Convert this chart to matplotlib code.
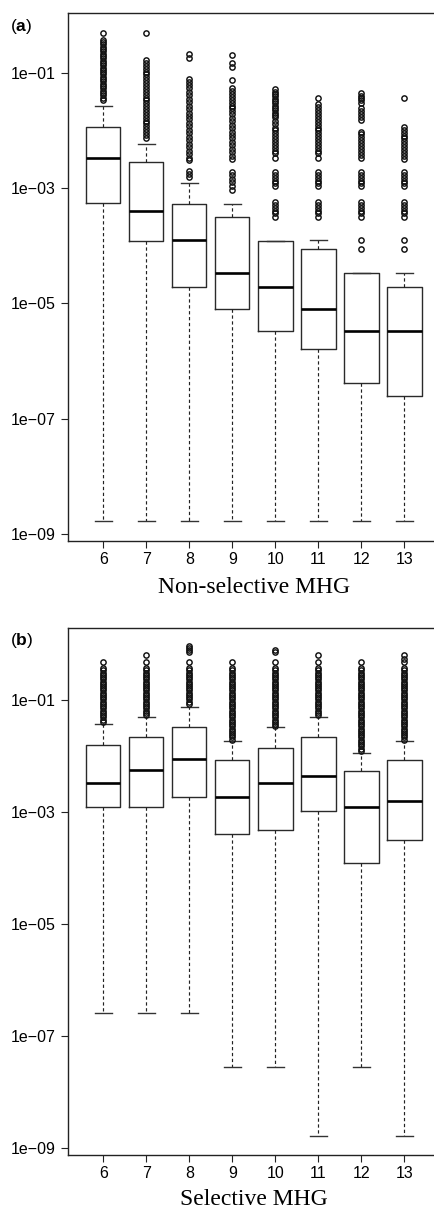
import numpy as np
import matplotlib
matplotlib.use("Agg")
import matplotlib.pyplot as plt

plt.rcParams['font.family'] = ['Liberation Sans', 'DejaVu Sans']
plt.rcParams['mathtext.fontset'] = 'custom'
plt.rcParams['mathtext.rm'] = 'Liberation Sans'
plt.rcParams['mathtext.bf'] = 'Liberation Sans:bold'

# ---------------- data (log10 values) ----------------
groups = [6, 7, 8, 9, 10, 11, 12, 13]
ytick_exp = [-1, -3, -5, -7, -9]
ytick_labels = ["1e\u221201", "1e\u221203", "1e\u221205", "1e\u221207", "1e\u221209"]

# Panel (a): Non-selective MHG
a_whishi = [-1.58, -2.23, -2.92, -3.27, -3.91, -3.90, -4.47, -4.47]
a_q3 = [-1.94, -2.54, -3.27, -3.50, -3.91, -4.06, -4.47, -4.71]
a_med = [-2.47, -3.39, -3.90, -4.47, -4.71, -5.10, -5.48, -5.48]
a_q1 = [-3.26, -3.91, -4.72, -5.10, -5.48, -5.79, -6.37, -6.60]
a_whislo = [-8.77, -8.77, -8.77, -8.77, -8.77, -8.77, -8.77, -8.77]
a_out6 = [-0.31, -0.43, -0.47, -0.51, -0.55, -0.59, -0.63, -0.67, -0.71, -0.75,
          -0.79, -0.83, -0.87, -0.91, -0.95, -0.99, -1.03, -1.07, -1.11, -1.15,
          -1.19, -1.23, -1.27, -1.31, -1.35, -1.39, -1.43, -1.47]
a_out7 = [-0.31, -0.78, -0.83, -0.88, -0.93, -0.98, -1.03, -1.08, -1.13, -1.18,
          -1.23, -1.28, -1.33, -1.38, -1.43, -1.48, -1.53, -1.58, -1.63, -1.68,
          -1.73, -1.78, -1.83, -1.88, -1.93, -1.98, -2.03, -2.08, -2.13]
a_out8 = [-0.68, -0.75, -1.11, -1.16, -1.21, -1.27, -1.33, -1.39, -1.45, -1.51,
          -1.57, -1.63, -1.69, -1.75, -1.81, -1.87, -1.93, -1.99, -2.05, -2.11,
          -2.17, -2.23, -2.29, -2.35, -2.41, -2.47, -2.51, -2.70, -2.75, -2.80]
a_out9 = [-0.69, -0.84, -0.90, -1.13, -1.27, -1.32, -1.37, -1.42, -1.47, -1.52,
          -1.57, -1.62, -1.67, -1.72, -1.78, -1.84, -1.90, -1.96, -2.02, -2.08,
          -2.14, -2.20, -2.26, -2.32, -2.38, -2.44, -2.50, -2.72, -2.78, -2.84,
          -2.90, -2.96, -3.04]
a_out10 = [-1.29, -1.33, -1.37, -1.41, -1.45, -1.49, -1.53, -1.57, -1.61, -1.65,
           -1.69, -1.73, -1.77, -1.83, -1.89, -1.95, -2.00, -2.05, -2.10, -2.15,
           -2.20, -2.25, -2.30, -2.35, -2.40, -2.47, -2.72, -2.77, -2.82, -2.87,
           -2.92, -2.97, -3.24, -3.29, -3.34, -3.39, -3.44, -3.50]
a_out11 = [-1.43, -1.55, -1.60, -1.65, -1.70, -1.75, -1.80, -1.85, -1.90, -1.95,
           -2.00, -2.05, -2.10, -2.15, -2.20, -2.25, -2.30, -2.35, -2.40, -2.47,
           -2.72, -2.77, -2.82, -2.87, -2.92, -2.97, -3.24, -3.29, -3.34, -3.39,
           -3.44, -3.50]
a_out12 = [-1.36, -1.40, -1.44, -1.48, -1.52, -1.62, -1.67, -1.72, -1.77, -1.82,
           -2.02, -2.07, -2.12, -2.17, -2.22, -2.27, -2.32, -2.37, -2.42, -2.47,
           -2.72, -2.77, -2.82, -2.87, -2.92, -2.97, -3.24, -3.29, -3.34, -3.39,
           -3.44, -3.50, -3.90, -4.06]
a_out13 = [-1.44, -1.94, -1.99, -2.04, -2.09, -2.14, -2.19, -2.24, -2.29, -2.34,
           -2.39, -2.44, -2.49, -2.72, -2.77, -2.82, -2.87, -2.92, -2.97, -3.24,
           -3.29, -3.34, -3.39, -3.44, -3.50, -3.90, -4.06]

# Panel (b): Selective MHG
b_whishi = [-1.43, -1.30, -1.12, -1.74, -1.49, -1.30, -1.94, -1.74]
b_q3 = [-1.81, -1.67, -1.49, -2.07, -1.85, -1.67, -2.26, -2.07]
b_med = [-2.48, -2.25, -2.06, -2.73, -2.48, -2.35, -2.92, -2.80]
b_q1 = [-2.92, -2.92, -2.73, -3.40, -3.32, -2.99, -3.92, -3.50]
b_whislo = [-6.60, -6.60, -6.60, -7.55, -7.55, -8.79, -7.55, -8.79]
b_out6 = [-0.32, -0.43, -0.47, -0.51, -0.55, -0.59, -0.63, -0.67, -0.71, -0.75,
          -0.79, -0.83, -0.87, -0.91, -0.95, -0.99, -1.03, -1.07, -1.11, -1.15,
          -1.19, -1.23, -1.27, -1.31, -1.35, -1.39]
b_out7 = [-0.20, -0.32, -0.43, -0.47, -0.51, -0.55, -0.59, -0.63, -0.67, -0.71,
          -0.75, -0.79, -0.83, -0.87, -0.91, -0.95, -0.99, -1.03, -1.07, -1.11,
          -1.15, -1.19, -1.23, -1.27]
b_out8 = [-0.03, -0.07, -0.11, -0.15, -0.32, -0.43, -0.47, -0.51, -0.55, -0.59,
          -0.63, -0.67, -0.71, -0.75, -0.79, -0.83, -0.87, -0.91, -0.95, -0.99,
          -1.03, -1.07]
b_out9 = [-0.32, -0.43, -0.47, -0.51, -0.55, -0.59, -0.63, -0.67, -0.71, -0.75,
          -0.79, -0.83, -0.87, -0.91, -0.95, -0.99, -1.03, -1.07, -1.11, -1.15,
          -1.19, -1.23, -1.27, -1.31, -1.35, -1.39, -1.43, -1.47, -1.51, -1.55,
          -1.59, -1.63, -1.67, -1.71]
b_out10 = [-0.11, -0.15, -0.32, -0.43, -0.47, -0.51, -0.55, -0.59, -0.63, -0.67,
           -0.71, -0.75, -0.79, -0.83, -0.87, -0.91, -0.95, -0.99, -1.03, -1.07,
           -1.11, -1.15, -1.19, -1.23, -1.27, -1.31, -1.35, -1.39, -1.43, -1.47]
b_out11 = [-0.20, -0.32, -0.43, -0.47, -0.51, -0.55, -0.59, -0.63, -0.67, -0.71,
           -0.75, -0.79, -0.83, -0.87, -0.91, -0.95, -0.99, -1.03, -1.07, -1.11,
           -1.15, -1.19, -1.23, -1.27]
b_out12 = [-0.32, -0.43, -0.47, -0.51, -0.55, -0.59, -0.63, -0.67, -0.71, -0.75,
           -0.79, -0.83, -0.87, -0.91, -0.95, -0.99, -1.03, -1.07, -1.11, -1.15,
           -1.19, -1.23, -1.27, -1.31, -1.35, -1.39, -1.43, -1.47, -1.51, -1.55,
           -1.59, -1.63, -1.67, -1.71, -1.75, -1.79, -1.83, -1.87, -1.91]
b_out13 = [-0.20, -0.27, -0.32, -0.43, -0.47, -0.51, -0.55, -0.59, -0.63, -0.67,
           -0.71, -0.75, -0.79, -0.83, -0.87, -0.91, -0.95, -0.99, -1.03, -1.07,
           -1.11, -1.15, -1.19, -1.23, -1.27, -1.31, -1.35, -1.39, -1.43, -1.47,
           -1.51, -1.55, -1.59, -1.63, -1.67, -1.71]

a_outliers = [a_out6, a_out7, a_out8, a_out9, a_out10, a_out11, a_out12, a_out13]
b_outliers = [b_out6, b_out7, b_out8, b_out9, b_out10, b_out11, b_out12, b_out13]

# ---------------- figure ----------------
W, H = 435, 1210
fig = plt.figure(figsize=(W / 100, H / 100), dpi=100)


def make_stats(whislo, q1, med, q3, whishi, outs):
    stats = []
    for i in range(len(groups)):
        stats.append(dict(whislo=10 ** whislo[i], q1=10 ** q1[i], med=10 ** med[i],
                          q3=10 ** q3[i], whishi=10 ** whishi[i],
                          fliers=10 ** np.array(outs[i])))
    return stats


def panel(rect, stats, ylog, xlabel, tag, tag_y, label_base):
    ax = fig.add_axes(rect)
    ax.set_yscale('log')
    ax.bxp(stats, positions=groups, widths=0.8, showfliers=True,
           boxprops=dict(color='#2a2a2a', linewidth=1.0),
           medianprops=dict(color='black', linewidth=1.9, solid_capstyle='butt'),
           whiskerprops=dict(color='#222222', linewidth=0.85, linestyle=(0, (2.8, 2.2))),
           capprops=dict(color='#333333', linewidth=1.0),
           capwidths=0.4,
           flierprops=dict(marker='o', markerfacecolor='none', markeredgecolor='#111111',
                           markersize=3.8, markeredgewidth=1.05, linestyle='none'))
    ax.set_xlim(5.18, 13.82)
    ax.set_ylim(10 ** ylog[0], 10 ** ylog[1])
    ax.set_xticks(groups)
    ax.set_xticklabels([str(g) for g in groups], fontsize=11.5)
    ax.set_yticks([10.0 ** e for e in ytick_exp])
    ax.set_yticklabels(ytick_labels, fontsize=11.5)
    ax.yaxis.set_minor_locator(matplotlib.ticker.NullLocator())
    ax.tick_params(axis='both', direction='out', length=4.8, width=0.8, color='#222222')
    ax.tick_params(axis='y', pad=4.2)
    ax.tick_params(axis='x', pad=3.0)
    for s in ax.spines.values():
        s.set_linewidth(1.0)
        s.set_color('#222222')
    ax.spines['right'].set_visible(False)
    fig.text(253.8 / W, 1 - label_base / H, xlabel, family='Liberation Serif',
             fontsize=17, ha='center', va='baseline')
    fig.text(10 / W, 1 - tag_y / H, r"($\mathbf{%s}$)" % tag, fontsize=12.5,
             ha='left', va='center')
    return ax


ax_a = panel([68 / W, 1 - 540.7 / H, 371.6 / W, (540.7 - 13) / H],
             make_stats(a_whislo, a_q1, a_med, a_q3, a_whishi, a_outliers),
             (-9.112, 0.035), "Non-selective MHG", "a", 26, 593.3)
ax_b = panel([68 / W, 1 - 1155.3 / H, 371.6 / W, (1155.3 - 628.3) / H],
             make_stats(b_whislo, b_q1, b_med, b_q3, b_whishi, b_outliers),
             (-9.136, 0.281), "Selective MHG", "b", 641, 1205.0)

fig.savefig("out.png", dpi=100)
